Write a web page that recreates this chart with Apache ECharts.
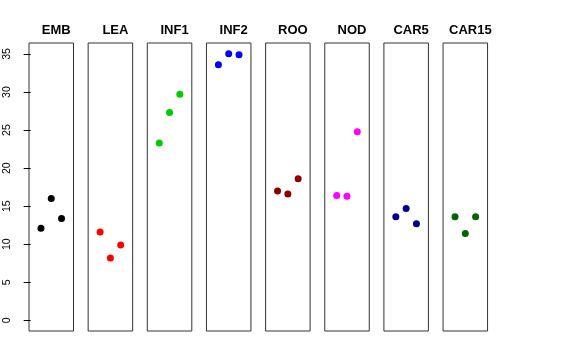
<!DOCTYPE html>
<html>
<head>
<meta charset="utf-8">
<script src="https://cdn.jsdelivr.net/npm/echarts@6/dist/echarts.min.js"></script>
<style>html,body{margin:0;padding:0;background:#fff}#c{width:576px;height:360px}</style>
</head>
<body>
<div id="c"></div>
<script>
const categories = ["EMB","LEA","INF1","INF2","ROO","NOD","CAR5","CAR15"];
const colors = ["#000000","#FF0000","#00CD00","#0000FF","#8B0000","#FF00FF","#00008B","#006400"];
const xPos = [1, 2, 3];
const EMB = [12.1, 16.0, 13.4];
const LEA = [11.6, 8.2, 9.9];
const INF1 = [23.3, 27.3, 29.7];
const INF2 = [33.6, 35.05, 34.9];
const ROO = [17.0, 16.6, 18.6];
const NOD = [16.4, 16.3, 24.8];
const CAR5 = [13.6, 14.7, 12.7];
const CAR15 = [13.6, 11.4, 13.6];
const yTicks = [0, 5, 10, 15, 20, 25, 30, 35];
const values = [EMB, LEA, INF1, INF2, ROO, NOD, CAR5, CAR15];

const chart = echarts.init(document.getElementById('c'), null, {renderer: 'canvas'});
const grids = [], xAxes = [], yAxes = [], series = [], titles = [];
const left0 = 29, pitch = 59.15, panelW = 44.5, panelTop = 43, panelH = 288;
categories.forEach((name, i) => {
  const l = left0 + i * pitch;
  grids.push({left: l, top: panelTop, width: panelW, height: panelH, show: true, borderColor: '#333', borderWidth: 1, backgroundColor: 'transparent'});
  xAxes.push({type: 'value', gridIndex: i, min: -0.16, max: 4.16, show: false});
  yAxes.push({
    type: 'value', gridIndex: i, min: -1.4, max: 36.45, show: i === 0,
    splitLine: {show: false}, axisLine: {show: false},
    axisTick: {show: true, length: 7, customValues: yTicks, lineStyle: {color: '#000'}},
    axisLabel: {show: true, customValues: yTicks, rotate: 90, margin: 16, fontSize: 10.5, color: '#000', fontFamily: 'Liberation Sans'}
  });
  series.push({
    type: 'scatter', xAxisIndex: i, yAxisIndex: i, symbol: 'circle', symbolSize: 7,
    itemStyle: {color: colors[i], opacity: 1},
    data: xPos.map((x, k) => [x, values[i][k]])
  });
  titles.push({text: name, left: l + panelW / 2, top: 19, textAlign: 'center',
    textStyle: {fontSize: 13, fontWeight: 'bold', color: '#000', fontFamily: 'Liberation Sans'}});
});
chart.setOption({animation: false, title: titles, grid: grids, xAxis: xAxes, yAxis: yAxes, series: series});
</script>
</body>
</html>
